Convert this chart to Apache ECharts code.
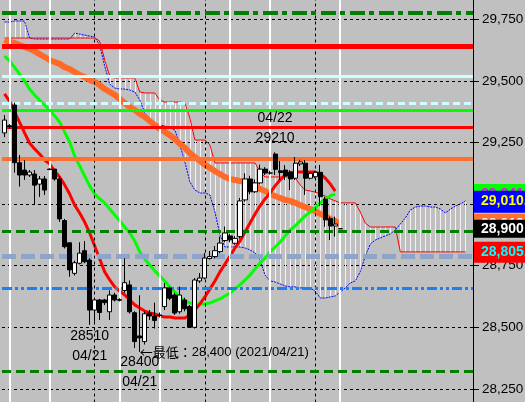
<!DOCTYPE html>
<html><head><meta charset="utf-8">
<script src="https://cdn.jsdelivr.net/npm/echarts@6/dist/echarts.min.js"></script>
<style>html,body{margin:0;padding:0;background:#c0c0c0}#c{width:525px;height:402px}</style>
</head><body><div id="c"></div>
<script>
// ---------- data ----------
const yTicks = [28250, 28500, 28750, 29000, 29250, 29500, 29750];
const openP = [29289,29318,29402,29168,29138,29118,29122,29081,29102,29142,
 29142,29102,28933,28843,28719,28760,28811,28773,28570,28611,
 28611,28563,28631,28612,28649,28672,28559,28465,28442,28558,
 28546,28550,28584,28660,28631,28563,28611,28584,28500,28688,
 28700,28779,28787,28807,28852,28871,28841,28868,29017,29102,
 29050,29086,29142,29126,29203,29135,29138,29130,29105,29163,
 29166,29105,29111,29129,29020,28941,28911,28900];
const closeP = [29341,29315,29168,29118,29118,29130,29077,29102,29057,29140,
 29102,28940,28827,28733,28762,28801,28766,28570,28611,28560,
 28600,28631,28611,28610,28681,28563,28442,28457,28555,28546,
 28528,28548,28660,28618,28558,28631,28575,28500,28692,28700,
 28781,28787,28811,28842,28883,28855,28861,29013,29102,29050,
 29086,29142,29126,29126,29141,29128,29114,29102,29166,29171,
 29105,29125,29129,29030,28936,28911,28919,28900];
const lowP = [29272,29305,29128,29071,29098,29110,29000,29029,29037,29138,
 29095,28928,28820,28705,28710,28755,28760,28510,28523,28530,
 28590,28530,28605,28605,28640,28556,28416,28400,28430,28530,
 28495,28540,28570,28610,28550,28555,28565,28497,28495,28680,
 28695,28775,28780,28800,28845,28845,28835,28860,29010,29040,
 29045,29080,29118,29120,29118,29098,29098,29057,29098,29155,
 29037,29100,29105,28992,28908,28854,28868,28898];
const highP = [29361,29325,29412,29199,29179,29138,29138,29114,29114,29145,
 29142,29114,28940,28843,28770,28845,28850,28780,28615,28615,
 28615,28650,28640,28618,28780,28690,28565,28630,28565,28570,
 28600,28560,28680,28665,28640,28665,28620,28590,28700,28720,
 28802,28810,28830,28868,28909,28880,28870,29025,29125,29115,
 29100,29160,29150,29135,29210,29175,29158,29138,29191,29180,
 29179,29130,29135,29159,29030,28949,28949,28902];
const maRed = [29447,29418,29374,29333,29289,29248,29224,29203,29179,29163,
 29134,29110,29078,29041,28996,28964,28927,28883,28830,28777,
 28725,28692,28664,28647,28631,28611,28591,28578,28566,28558,
 28554,28546,28542,28542,28538,28538,28538,28550,28570,28595,
 28623,28656,28688,28725,28757,28789,28822,28850,28887,28923,
 28960,28993,29021,29045,29074,29098,29118,29126,29130,29130,
 29130,29130,29130,29122,29106,29082,29053];
const maGreen = [29601,29581,29556,29528,29500,29467,29443,29422,29402,29382,
 29358,29333,29293,29252,29195,29155,29114,29074,29041,29021,
 29005,28980,28956,28932,28907,28883,28850,28806,28777,28753,
 28729,28708,28688,28664,28643,28623,28607,28599,28595,28595,
 28595,28599,28607,28615,28627,28639,28656,28672,28692,28712,
 28737,28761,28781,28806,28826,28846,28871,28895,28911,28932,
 28952,28968,28984,29005,29021,29033,29041];
const maOrange = [29666,29658,29654,29646,29638,29630,29621,29609,29597,29585,
 29577,29569,29556,29548,29536,29524,29516,29504,29496,29483,
 29467,29455,29443,29427,29410,29394,29382,29366,29354,29337,
 29321,29305,29293,29280,29264,29244,29228,29207,29191,29175,
 29159,29147,29134,29122,29110,29102,29098,29094,29090,29082,
 29074,29061,29053,29041,29033,29025,29017,29013,29005,28996,
 28988,28980,28972,28960,28952,28940,28931,28919];
const spanA = [29674,29674,29674,29674,29674,29674,29674,29674,29674,29674,
 29674,29674,29674,29674,29674,29674,29674,29674,29674,29662,
 29585,29520,29512,29512,29512,29512,29512,29455,29451,29451,
 29451,29422,29414,29414,29414,29414,29410,29349,29260,29260,
 29260,29240,29167,29167,29167,29167,29167,29167,29167,29167,
 29167,29130,29110,29110,29110,29110,29110,29110,29106,29078,
 29057,29053,29049,29041,29033,29021,29013,29005,29005,29005,
 29005,28968,28923,28907,28907,28907,28907,28907,28907,28806,
 28806,28806,28806,28806,28806,28806,28806,28806,28806,28806,
 28806,28806,28806];
const spanB = [29739,29739,29743,29743,29743,29674,29670,29670,29670,29670,
 29670,29670,29670,29670,29694,29690,29686,29682,29678,29646,
 29560,29487,29471,29467,29467,29463,29455,29422,29370,29341,
 29329,29321,29317,29309,29301,29240,29171,29090,29057,29045,
 29045,29037,28968,28875,28826,28826,28826,28826,28822,28814,
 28802,28773,28712,28688,28684,28676,28668,28664,28664,28660,
 28660,28660,28647,28619,28619,28623,28627,28643,28660,28680,
 28688,28725,28789,28838,28854,28863,28871,28879,28895,28919,
 28944,28976,28988,28992,28992,28988,28988,28980,28964,28980,
 28992,29001,29013];
const hLevels = [29778, 29642, 29517, 29409, 29382, 29313, 29183, 28891, 28787, 28658, 28322];
const dashedV = [18, 40, 62];
const whiteV = [1, 9, 23, 31, 45, 53, 67];
const highMark = {idx: 54, value: 29210, date: '04/22'};
const lowMark1 = {idx: 17, value: 28510, date: '04/21'};
const lowMark2 = {idx: 27, value: 28400, date: '04/21'};
const lowestLead = '←最低：';
const lowestRest = '28,400 (2021/04/21)';
const priceBoxes = [29041, 28919, 29010, 28900, 28805];
const priceBoxText = ['29,041.0', '28,919.0', '29,010.0', '28,900', '28,805.0'];
const categories = [];
for (let i = 0; i < 94; i++) categories.push('b' + i);

// ---------- chart ----------
const FONT = '"Liberation Sans","Noto Sans CJK JP",sans-serif';
const candleData = openP.map((o, i) => [o, closeP[i], lowP[i], highP[i]]);
const cloudData = spanA.map((a, i) => [i, a, spanB[i]]);

const hStyles = [
  {color:'#008000', width:4, type:[15,4,5,5]},
  {color:'#ff0000', width:5, type:'solid'},
  {color:'#ccffff', width:3, type:'solid'},
  {color:'#ccffff', width:3, type:[7,4]},
  {color:'#00ff00', width:3, type:'solid'},
  {color:'#ff0000', width:3, type:'solid'},
  {color:'#ff7030', width:4, type:'solid'},
  {color:'#008000', width:3, type:[9,5]},
  {color:'#8ca5c8', width:5, type:[14,5]},
  {color:'#1e7ff0', width:3, type:[10,3,3,3,3,3]},
  {color:'#008000', width:3, type:[9,5]}
];
const boxStyles = [
  {color:'#ff00ff', bg:'#00ff00', pad:[2,12,1,7]},
  {color:'#ffffff', bg:'#ff7030', pad:[2,12,1,7]},
  {color:'#ffff00', bg:'#0000ff', pad:[3,12,2,7]},
  {color:'#ffffff', bg:'#000000', pad:[1,12,0,7]},
  {color:'#00ffff', bg:'#ff0000', pad:[2,12,2,7]}
];

const option = {
  animation: false,
  backgroundColor: '#c0c0c0',
  grid: {left: 2, right: 52, top: -42.3, bottom: -48.5, containLabel: false, outerBoundsMode: 'none'},
  xAxis: {type: 'category', data: categories, boundaryGap: true, show: false},
  yAxis: {
    type: 'value', position: 'right', min: 28000, max: 30000, interval: 250, scale: false,
    axisLine: {show: true, lineStyle: {color: '#000', width: 1}},
    axisTick: {show: true, length: 6, lineStyle: {color: '#000'}},
    axisLabel: {color: '#000', fontSize: 13.5, fontFamily: FONT, margin: 9,
      showMinLabel: false, showMaxLabel: false,
      formatter: v => yTicks.indexOf(v) >= 0 ? v.toLocaleString('en-US') : ''},
    splitLine: {show: true, lineStyle: {color: '#000', width: 1, type: [3,3]}}
  },
  series: [
    { // grid verticals
      type: 'line', data: [], silent: true, z: 1,
      markLine: {silent: true, symbol: ['none','none'], animation: false, label: {show: false},
        data: dashedV.map(v => ({xAxis: v, lineStyle: {color: '#000', width: 1, type: [3,3]}}))
          .concat(whiteV.map(v => ({xAxis: v, lineStyle: {color: '#ffffff', width: 2, type: 'solid'}})))}
    },
    { // cloud hatch
      type: 'custom', data: cloudData, z: 2, silent: true, clip: true,
      encode: {x: 0, y: [1, 2]},
      renderItem: function (params, api) {
        const p1 = api.coord([api.value(0), api.value(1)]);
        const p2 = api.coord([api.value(0), api.value(2)]);
        const x = Math.round(p1[0]) + 0.5;
        return {type: 'line', shape: {x1: x, y1: p1[1], x2: x, y2: p2[1]},
          style: {stroke: '#f6eef4', lineWidth: 1}};
      }
    },
    {type: 'line', data: spanB, z: 3, showSymbol: false, silent: true,
      lineStyle: {color: '#0000ff', width: 1, type: [2,1]}},
    {type: 'line', data: spanA, z: 3, showSymbol: false, silent: true,
      lineStyle: {color: '#ff0000', width: 1}},
    {type: 'line', data: maOrange, z: 4, showSymbol: false, silent: true,
      lineStyle: {color: '#ff6a28', width: 6}},
    {type: 'line', data: maGreen, z: 4, showSymbol: false, silent: true,
      lineStyle: {color: '#00ff00', width: 3}},
    {type: 'line', data: maRed, z: 4, showSymbol: false, silent: true,
      lineStyle: {color: '#ff0000', width: 3}},
    {
      type: 'candlestick', data: candleData, z: 5, barWidth: 4.6, silent: true,
      itemStyle: {color: '#ffffff', color0: '#000000', borderColor: '#000000', borderColor0: '#000000', borderWidth: 1},
      markPoint: {
        silent: true, symbol: 'circle', symbolSize: 0, animation: false,
        label: {color: '#000', fontSize: 14, fontFamily: FONT, lineHeight: 20},
        data: [
          {coord: [highMark.idx, highMark.value], label: {position: 'top', distance: 4,
            formatter: highMark.date + '\n' + highMark.value}},
          {coord: [lowMark1.idx, lowMark1.value], label: {position: 'bottom', distance: 1,
            formatter: lowMark1.value + '\n' + lowMark1.date}},
          {coord: [lowMark2.idx, lowMark2.value], label: {position: 'bottom', distance: 0,
            formatter: lowMark2.value + '\n' + lowMark2.date}},
          {coord: [lowMark2.idx, lowMark2.value], label: {position: 'right', distance: 0,
            formatter: '{a|' + lowestLead + '}{b|' + lowestRest + '}',
            rich: {
              a: {fontFamily: '"Noto Sans CJK JP",sans-serif', fontSize: 13, color: '#000'},
              b: {fontFamily: FONT, fontSize: 13, color: '#000'}
            }}}
        ]
      }
    },
    { // horizontal levels
      type: 'line', data: [], z: 6, silent: true,
      markLine: {silent: true, symbol: ['none','none'], animation: false, label: {show: false},
        data: hLevels.map((v, i) => ({yAxis: v, lineStyle: hStyles[i]}))}
    },
    { // price boxes
      type: 'line', data: [], z: 10, silent: true,
      markLine: {silent: true, symbol: ['none','none'], animation: false,
        lineStyle: {color: 'rgba(0,0,0,0)', width: 1},
        data: priceBoxes.map((v, i) => ({yAxis: v,
          label: {show: true, position: 'end', distance: 1, formatter: priceBoxText[i],
            color: boxStyles[i].color, backgroundColor: boxStyles[i].bg, fontWeight: 'bold',
            fontSize: 14, fontFamily: FONT, padding: boxStyles[i].pad, lineHeight: 17}}))}
    }
  ]
};
const chart = echarts.init(document.getElementById('c'), null, {renderer: 'canvas'});
chart.setOption(option);
</script></body></html>
